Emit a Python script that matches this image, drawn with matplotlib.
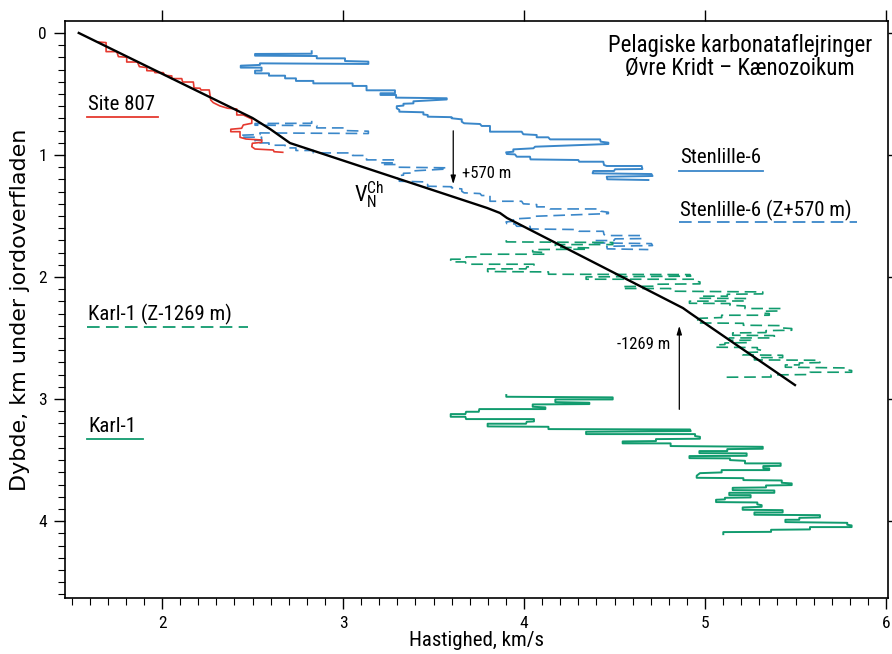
import matplotlib
matplotlib.use("Agg")
import matplotlib.pyplot as plt
import matplotlib.font_manager as fm
from matplotlib.ticker import MultipleLocator

# velocity (km/s) and depth (km)
site807_v = [1.650, 1.691, 1.691, 1.750, 1.759, 1.805, 1.805, 1.864, 1.875, 1.916,
             1.916, 1.956, 1.961, 2.007, 2.015, 2.054, 2.054, 2.109, 2.114, 2.173,
             2.177, 2.210, 2.215, 2.261, 2.269, 2.283, 2.320, 2.363, 2.413, 2.413,
             2.449, 2.496, 2.496, 2.449, 2.440, 2.380, 2.380, 2.431, 2.431, 2.464,
             2.551, 2.551, 2.499, 2.496, 2.514, 2.615, 2.619, 2.667]
site807_z = [0.074, 0.079, 0.153, 0.153, 0.194, 0.199, 0.238, 0.238, 0.276, 0.284,
             0.309, 0.311, 0.325, 0.325, 0.347, 0.352, 0.374, 0.374, 0.402, 0.402,
             0.451, 0.453, 0.467, 0.467, 0.549, 0.571, 0.598, 0.617, 0.623, 0.672,
             0.672, 0.705, 0.740, 0.754, 0.781, 0.789, 0.809, 0.809, 0.855, 0.869,
             0.877, 0.896, 0.904, 0.932, 0.951, 0.959, 0.973, 0.978]

stn_v = [2.827, 2.827, 2.514, 2.514, 2.855, 2.855, 3.011, 3.011, 3.140, 3.140,
         2.541, 2.541, 2.435, 2.435, 2.550, 2.550, 2.514, 2.514, 2.591, 2.591,
         2.680, 2.680, 2.740, 2.740, 2.836, 2.836, 3.053, 3.053, 3.130, 3.130,
         3.287, 3.287, 3.207, 3.207, 3.293, 3.293, 3.573, 3.573, 3.389, 3.389,
         3.334, 3.334, 3.297, 3.297, 3.311, 3.311, 3.444, 3.444, 3.468, 3.468,
         3.600, 3.600, 3.656, 3.656, 3.669, 3.757, 3.766, 3.812, 3.812, 3.987,
         3.996, 4.070, 4.070, 4.134, 4.144, 4.420, 4.424, 4.466, 4.466, 4.061,
         4.052, 3.941, 3.941, 3.901, 3.905, 3.950, 3.960, 4.033, 4.036, 4.300,
         4.305, 4.438, 4.442, 4.457, 4.650, 4.654, 4.503, 4.497, 4.383, 4.379,
         4.704, 4.710, 4.457, 4.460, 4.687]
stn_z = [0.150, 0.170, 0.172, 0.186, 0.189, 0.208, 0.208, 0.230, 0.235, 0.254,
         0.249, 0.262, 0.268, 0.284, 0.284, 0.309, 0.309, 0.331, 0.331, 0.350,
         0.350, 0.372, 0.372, 0.393, 0.393, 0.413, 0.413, 0.434, 0.434, 0.470,
         0.470, 0.494, 0.494, 0.508, 0.508, 0.530, 0.535, 0.545, 0.560, 0.577,
         0.580, 0.595, 0.600, 0.618, 0.630, 0.645, 0.650, 0.668, 0.672, 0.686,
         0.690, 0.699, 0.708, 0.727, 0.740, 0.746, 0.762, 0.762, 0.809, 0.809,
         0.830, 0.836, 0.855, 0.855, 0.872, 0.872, 0.891, 0.899, 0.910, 0.932,
         0.945, 0.954, 0.973, 0.978, 0.992, 0.995, 1.014, 1.014, 1.036, 1.041,
         1.055, 1.055, 1.082, 1.090, 1.090, 1.115, 1.117, 1.131, 1.131, 1.150,
         1.156, 1.172, 1.178, 1.199, 1.205]

karl_v = [3.902, 3.902, 4.490, 4.490, 4.173, 4.173, 4.361, 4.361, 4.048, 4.048,
          4.118, 4.118, 3.753, 3.750, 3.680, 3.676, 3.595, 3.595, 3.676, 3.680,
          4.055, 4.055, 4.015, 4.011, 3.799, 3.799, 4.135, 4.135, 4.917, 4.921,
          4.343, 4.343, 4.945, 4.945, 4.972, 4.972, 4.729, 4.729, 4.545, 4.545,
          4.810, 4.810, 5.319, 5.319, 5.123, 5.123, 4.969, 4.969, 5.230, 5.230,
          4.914, 4.914, 5.138, 5.138, 5.221, 5.221, 5.418, 5.418, 5.322, 5.322,
          5.355, 5.355, 5.092, 5.092, 4.972, 4.954, 4.954, 5.212, 5.212, 5.424,
          5.424, 5.479, 5.479, 5.337, 5.337, 5.153, 5.153, 5.383, 5.383, 5.134,
          5.134, 5.252, 5.252, 5.110, 5.110, 5.061, 5.061, 5.289, 5.289, 5.313,
          5.313, 5.208, 5.208, 5.429, 5.429, 5.273, 5.273, 5.635, 5.635, 5.521,
          5.521, 5.444, 5.444, 5.786, 5.786, 5.810, 5.810, 5.580, 5.580, 5.365,
          5.365, 5.101, 5.101]
karl_z = [2.967, 2.981, 2.986, 3.003, 3.003, 3.025, 3.030, 3.041, 3.044, 3.063,
          3.068, 3.082, 3.082, 3.104, 3.104, 3.123, 3.123, 3.145, 3.145, 3.164,
          3.164, 3.183, 3.186, 3.202, 3.202, 3.224, 3.227, 3.246, 3.249, 3.262,
          3.268, 3.287, 3.287, 3.303, 3.309, 3.325, 3.328, 3.344, 3.347, 3.363,
          3.363, 3.385, 3.391, 3.407, 3.410, 3.426, 3.426, 3.443, 3.445, 3.465,
          3.467, 3.484, 3.486, 3.500, 3.506, 3.527, 3.527, 3.547, 3.549, 3.566,
          3.568, 3.582, 3.582, 3.601, 3.607, 3.628, 3.645, 3.648, 3.664, 3.667,
          3.686, 3.691, 3.705, 3.708, 3.724, 3.727, 3.746, 3.749, 3.768, 3.768,
          3.787, 3.787, 3.806, 3.809, 3.822, 3.825, 3.844, 3.847, 3.863, 3.869,
          3.883, 3.888, 3.907, 3.910, 3.929, 3.929, 3.948, 3.951, 3.970, 3.973,
          3.989, 3.989, 4.008, 4.014, 4.030, 4.035, 4.049, 4.049, 4.068, 4.071,
          4.088, 4.090, 4.107]

# normal compaction trend V_N^Ch
trend_v = [1.54, 2.50, 2.60, 2.707, 3.796, 3.867, 3.906, 4.878, 4.917, 5.497]
trend_z = [0.0, 0.697, 0.79, 0.902, 1.434, 1.475, 1.516, 2.254, 2.295, 2.885]

stn_shift = 0.570    # Z + 570 m
karl_shift = -1.269  # Z - 1269 m

red = '#e5392f'
blue = '#3a87c9'
green = '#119b6e'
dash = (0, (7, 3.5))

names = {f.name for f in fm.fontManager.ttflist}
narrow = 'DejaVu Sans'
for cand in ['Liberation Sans Narrow', 'Roboto Condensed']:
    if cand in names:
        narrow = cand
        break

fig = plt.figure(figsize=(8.92, 6.54), dpi=100)
ax = fig.add_axes([65 / 892, 1 - 598 / 654, 823 / 892, 577 / 654])

ax.plot(stn_v, [z + stn_shift for z in stn_z], color=blue, lw=1.2, ls=dash, zorder=2)
ax.plot(karl_v, [z + karl_shift for z in karl_z], color=green, lw=1.2, ls=dash, zorder=3)
ax.plot(stn_v, stn_z, color=blue, lw=1.4, zorder=3)
ax.plot(karl_v, karl_z, color=green, lw=1.4, zorder=3)
ax.plot(site807_v, site807_z, color=red, lw=1.2, zorder=4)
ax.plot(trend_v, trend_z, color='black', lw=1.7, zorder=5)

# shift arrows
ax.annotate('', xy=(3.609, 1.262), xytext=(3.609, 0.779),
            arrowprops=dict(arrowstyle='-|>,head_length=0.5,head_width=0.15', color='black', lw=0.9))
ax.text(3.66, 1.15, '+570 m', fontsize=12, family=narrow, va='center', ha='left')
ax.annotate('', xy=(4.858, 2.377), xytext=(4.858, 3.107),
            arrowprops=dict(arrowstyle='-|>,head_length=0.5,head_width=0.15', color='black', lw=0.9))
ax.text(4.807, 2.55, '-1269 m', fontsize=12, family=narrow, va='center', ha='right')
ax.text(3.06, 1.33, r'$\mathregular{V_N^{Ch}}$', fontsize=16, family=narrow, va='center', ha='left')

# labels with line samples
def key(x0, x1, zt, zl, label, color, ls='-'):
    ax.text(x0 + 0.005, zt, label, fontsize=15, family=narrow, ha='left', va='baseline')
    ax.plot([x0, x1], [zl, zl], color=color, lw=1.3, ls=ls)

key(1.586, 1.978, 0.631, 0.686, 'Site 807', red)
key(1.586, 2.475, 2.352, 2.410, 'Karl-1 (Z-1269 m)', green, dash)
key(1.586, 1.895, 3.270, 3.328, 'Karl-1', green)
key(4.856, 5.320, 1.066, 1.129, 'Stenlille-6', blue)
key(4.856, 5.840, 1.500, 1.547, 'Stenlille-6 (Z+570 m)', blue, dash)

ax.text(5.193, 0.10, 'Pelagiske karbonataflejringer', fontsize=16.5, family=narrow,
        ha='center', va='center')
ax.text(5.193, 0.295, 'Øvre Kridt – Kænozoikum', fontsize=16.5, family=narrow,
        ha='center', va='center')

ax.set_xlim(1.464, 6.011)
ax.set_ylim(4.63, -0.098)
ax.xaxis.set_major_locator(MultipleLocator(1))
ax.xaxis.set_minor_locator(MultipleLocator(0.1))
ax.yaxis.set_major_locator(MultipleLocator(1))
ax.yaxis.set_minor_locator(MultipleLocator(0.1))
ax.tick_params(which='major', direction='out', length=8, width=1.0, labelsize=12.5,
               top=True, right=True, pad=5)
ax.tick_params(which='minor', direction='out', length=5, width=0.8)
for lab in ax.get_xticklabels() + ax.get_yticklabels():
    lab.set_family(narrow)
for s in ax.spines.values():
    s.set_linewidth(1.2)

ax.set_xlabel('Hastighed, km/s', fontsize=15, family=narrow, labelpad=0)
ax.set_ylabel('Dybde, km under jordoverfladen', fontsize=16, labelpad=6)

fig.savefig('out.png', dpi=100)
